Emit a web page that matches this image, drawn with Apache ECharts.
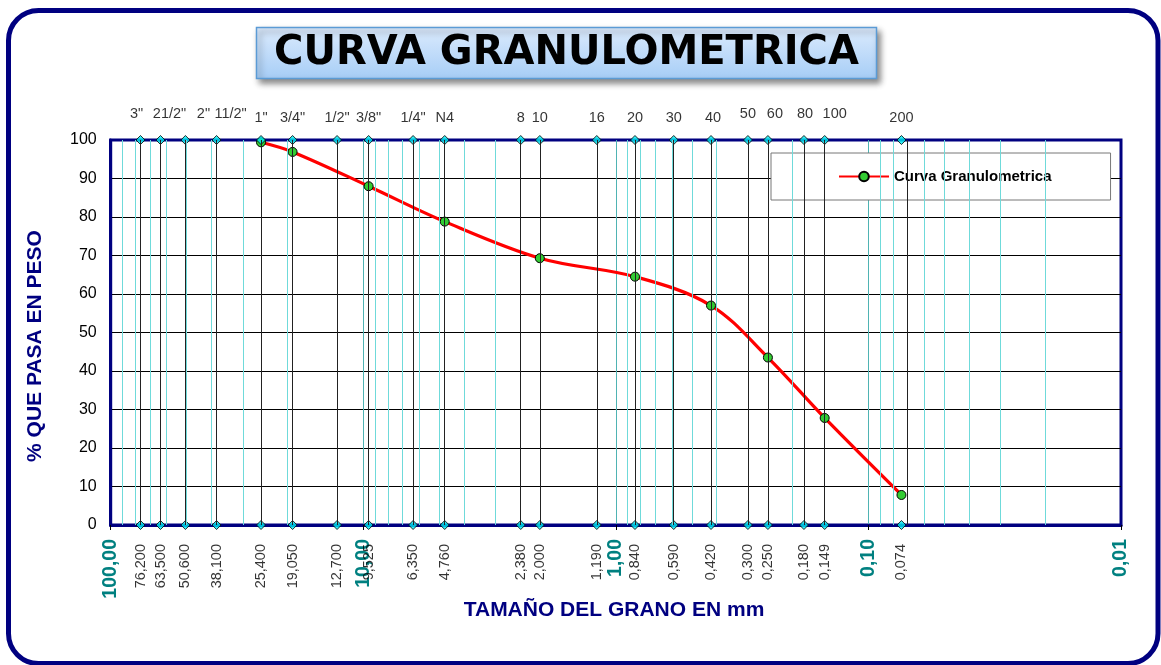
<!DOCTYPE html>
<html><head><meta charset="utf-8">
<script src="https://cdn.jsdelivr.net/npm/echarts@6/dist/echarts.min.js"></script>
<style>html,body{margin:0;padding:0;background:#fff}#c{width:1161px;height:665px}</style>
</head><body><div id="c"></div>
<script>
// Sieve series (ASTM) - names, openings (mm), bottom labels
const sieveNames = ['3"', '21/2"', '2"', '11/2"', '1"', '3/4"', '1/2"', '3/8"', '1/4"', 'N4', '8', '10', '16', '20', '30', '40', '50', '60', '80', '100', '200'];
const sieveSizes = [76.2, 63.5, 50.6, 38.1, 25.4, 19.05, 12.7, 9.525, 6.35, 4.76, 2.38, 2.0, 1.19, 0.84, 0.59, 0.42, 0.30, 0.25, 0.18, 0.149, 0.074];
const sieveLabels = ['76,200', '63,500', '50,600', '38,100', '25,400', '19,050', '12,700', '9,525', '6,350', '4,760', '2,380', '2,000', '1,190', '0,840', '0,590', '0,420', '0,300', '0,250', '0,180', '0,149', '0,074'];
// Grain size curve
const sampleSizes = [25.4, 19.05, 9.525, 4.76, 2.0, 0.84, 0.42, 0.25, 0.149, 0.074];
const samplePassing = [99.4, 96.9, 88.0, 78.8, 69.3, 64.5, 57.0, 43.5, 27.8, 7.8];
// Log minor grid values
const minorGrid = [90, 80, 70, 60, 50, 40, 30, 20, 9, 8, 7, 6, 5, 4, 3, 2, 0.9, 0.8, 0.7, 0.6, 0.5, 0.4, 0.3, 0.2, 0.09, 0.08, 0.07, 0.06, 0.05, 0.04, 0.03, 0.02];

// label placement tweaks (style only)
const raisedTop = new Set(['3"', '21/2"', '2"', '11/2"', '50', '60', '80', '100']);
const topShiftX = {'3"': -4, '21/2"': 9, '2"': 18, '11/2"': 14, '40': 2, '60': 7, '80': 1, '100': 10};

const FONT = 'Liberation Sans, Arial, sans-serif';
const chart = echarts.init(document.getElementById('c'), null, {renderer: 'canvas'});

const option = {
  backgroundColor: '#fff',
  animation: false,
  grid: {left: 110.7, right: 40, top: 140, bottom: 140, show: true, borderColor: '#000080', borderWidth: 3, backgroundColor: 'transparent'},
  legend: {
    data: ['Curva Granulometrica'],
    left: 771, top: 153,
    backgroundColor: '#fff', borderColor: '#777', borderWidth: 1,
    padding: [16, 59, 16, 67],
    itemWidth: 50, itemHeight: 12,
    textStyle: {fontFamily: FONT, fontWeight: 'bold', fontSize: 15, color: '#000'}
  },
  xAxis: {
    type: 'log', logBase: 10, min: 0.01, max: 100, inverse: true,
    axisLine: {show: true, lineStyle: {color: '#000080', width: 3}},
    axisTick: {show: true, length: 5, lineStyle: {color: '#000', width: 1}},
    axisLabel: {rotate: 90, margin: 14, fontFamily: FONT, fontWeight: 'bold', fontSize: 19.5, color: '#008080',
      showMinLabel: true, showMaxLabel: true,
      formatter: v => Number(v).toFixed(2).replace('.', ',')},
    splitLine: {show: true, showMinLine: false, showMaxLine: false, lineStyle: {color: '#4fb3b3', width: 1}},
    minorTick: {show: false}, minorSplitLine: {show: false}
  },
  yAxis: {
    type: 'value', min: 0, max: 100, interval: 10,
    axisLine: {show: true, lineStyle: {color: '#000080', width: 3}},
    axisTick: {show: false},
    axisLabel: {fontFamily: FONT, fontSize: 16, color: '#000', margin: 14},
    splitLine: {show: true, showMinLine: false, showMaxLine: false, lineStyle: {color: '#000', width: 1}}
  },
  series: [
    {
      name: 'minor', type: 'scatter', z: 1, silent: true, symbolSize: 0,
      data: minorGrid.map(v => [v, 0]),
      markLine: {silent: true, symbol: 'none', animation: false, label: {show: false},
        lineStyle: {color: '#6fdada', width: 1, type: 'solid'},
        data: minorGrid.map(v => ({xAxis: v}))}
    },
    {
      name: 'sieveLines', type: 'scatter', z: 2, silent: true, symbolSize: 0,
      data: sieveSizes.map(v => [v, 0]),
      markLine: {silent: true, symbol: 'none', animation: false, label: {show: false},
        lineStyle: {color: '#222', width: 1, type: 'solid'},
        data: sieveSizes.map(v => ({xAxis: v}))}
    },
    {
      name: 'Curva Granulometrica', type: 'line', z: 3,
      data: sampleSizes.map((s, i) => [s, samplePassing[i]]),
      smooth: 0.35,
      lineStyle: {color: '#ff0000', width: 3.2},
      symbol: 'circle', symbolSize: 9,
      itemStyle: {color: '#33cc33', borderColor: '#000', borderWidth: 1}
    },
    {
      name: 'sieveTop', type: 'scatter', z: 4, silent: true,
      symbol: 'diamond', symbolSize: 9,
      itemStyle: {color: '#00e8f0', borderColor: '#000', borderWidth: 1},
      data: sieveSizes.map((s, i) => ({
        value: [s, 100],
        label: {show: true, position: 'top', distance: raisedTop.has(sieveNames[i]) ? 14 : 10,
          offset: [topShiftX[sieveNames[i]] || 0, 0],
          formatter: sieveNames[i], fontFamily: FONT, fontSize: 14.5, color: '#000'}
      }))
    },
    {
      name: 'sieveBottom', type: 'scatter', z: 4, silent: true,
      symbol: 'diamond', symbolSize: 9,
      itemStyle: {color: '#00e8f0', borderColor: '#000', borderWidth: 1},
      data: sieveSizes.map((s, i) => ({
        value: [s, 0],
        label: {show: true, position: 'bottom', distance: 14, rotate: 90, align: 'right', verticalAlign: 'middle',
          formatter: sieveLabels[i], fontFamily: FONT, fontSize: 14.5, color: '#000'}
      }))
    }
  ],
  graphic: [
    {type: 'rect', z: 100, silent: true,
      shape: {x: 8.5, y: 10.5, width: 1149.5, height: 653, r: 30},
      style: {fill: 'none', stroke: '#000080', lineWidth: 5}},
    {type: 'rect', z: 100, silent: true,
      shape: {x: 256.5, y: 27.5, width: 620, height: 51},
      style: {fill: {type: 'linear', x: 0, y: 0, x2: 0, y2: 1, colorStops: [{offset: 0, color: '#dcebfd'}, {offset: 1, color: '#a6cdf6'}]},
        stroke: '#5b9bd5', lineWidth: 1.5, shadowBlur: 6, shadowOffsetX: 3, shadowOffsetY: 4, shadowColor: 'rgba(0,0,0,0.45)'}},
    {type: 'text', z: 101, silent: true, x: 566.5, y: 54,
      style: {text: 'CURVA GRANULOMETRICA', fill: '#000', font: 'bold 40px "DejaVu Sans", sans-serif', textAlign: 'center', textVerticalAlign: 'middle'}},
    {type: 'text', z: 101, silent: true, x: 35, y: 346, rotation: Math.PI / 2,
      style: {text: '% QUE PASA EN PESO', fill: '#000080', font: 'bold 21px "Liberation Sans", Arial, sans-serif', textAlign: 'center', textVerticalAlign: 'middle'}},
    {type: 'text', z: 101, silent: true, x: 614, y: 610,
      style: {text: 'TAMAÑO DEL GRANO EN mm', fill: '#000080', font: 'bold 21px "Liberation Sans", Arial, sans-serif', textAlign: 'center', textVerticalAlign: 'middle'}}
  ]
};
chart.setOption(option);
</script>
</body></html>
